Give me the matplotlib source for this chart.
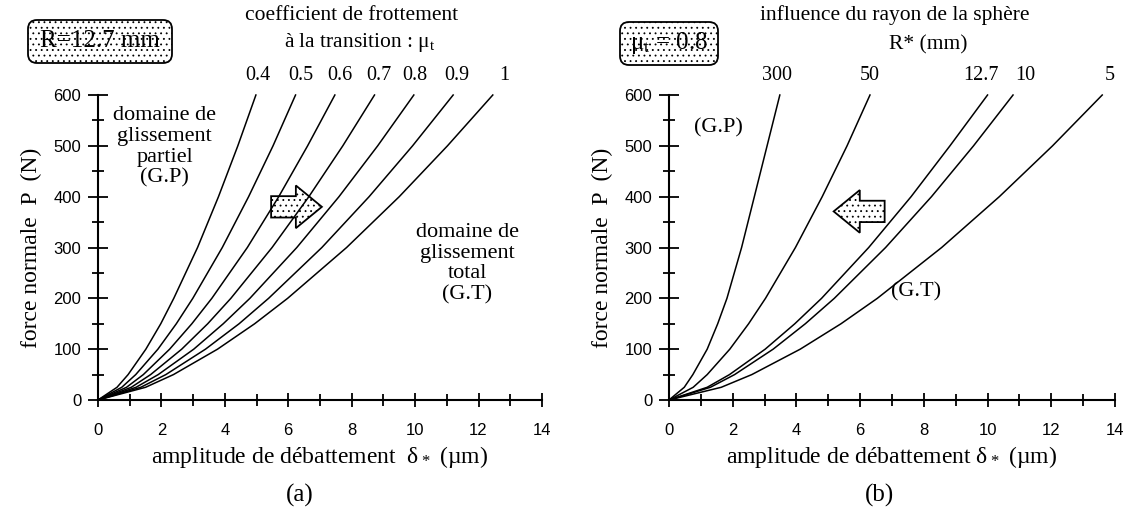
import matplotlib
matplotlib.use("Agg")
import matplotlib.pyplot as plt
from matplotlib.patches import FancyArrow, FancyBboxPatch
from matplotlib.ticker import MultipleLocator

plt.rcParams['font.family'] = ['Liberation Serif', 'DejaVu Serif']
plt.rcParams['hatch.linewidth'] = 0.6
plt.rcParams['hatch.color'] = '0.35'

# normal force levels (N) at which the transition amplitude was read
force = [0, 25, 50, 100, 150, 200, 300, 400, 500, 600]

# (a) transition amplitude (um) for each friction coefficient, R = 12.7 mm
mu_labels = ['0.4', '0.5', '0.6', '0.7', '0.8', '0.9', '1']
delta_mu04 = [0, 0.60, 0.95, 1.51, 1.98, 2.39, 3.14, 3.80, 4.41, 4.98]
delta_mu05 = [0, 0.75, 1.19, 1.89, 2.47, 2.99, 3.92, 4.75, 5.52, 6.23]
delta_mu06 = [0, 0.90, 1.43, 2.26, 2.96, 3.59, 4.71, 5.70, 6.61, 7.47]
delta_mu07 = [0, 1.05, 1.66, 2.64, 3.46, 4.19, 5.49, 6.65, 7.72, 8.72]
delta_mu08 = [0, 1.20, 1.90, 3.02, 3.95, 4.79, 6.27, 7.60, 8.82, 9.96]
delta_mu09 = [0, 1.35, 2.14, 3.39, 4.45, 5.38, 7.06, 8.55, 9.92, 11.20]
delta_mu10 = [0, 1.50, 2.38, 3.77, 4.94, 5.98, 7.84, 9.50, 11.02, 12.45]

# (b) transition amplitude (um) for each sphere radius, mu_t = 0.8
radius_labels = ['300', '50', '12.7', '10', '5']
delta_r300 = [0, 0.48, 0.75, 1.20, 1.53, 1.82, 2.28, 2.68, 3.08, 3.48]
delta_r50 = [0, 0.76, 1.20, 1.91, 2.50, 3.03, 3.97, 4.81, 5.59, 6.31]
delta_r127 = [0, 1.20, 1.90, 3.02, 3.95, 4.79, 6.27, 7.60, 8.82, 10.00]
delta_r10 = [0, 1.30, 2.06, 3.27, 4.28, 5.19, 6.80, 8.24, 9.56, 10.80]
delta_r5 = [0, 1.64, 2.60, 4.12, 5.40, 6.54, 8.56, 10.37, 12.04, 13.60]

curves_a = [delta_mu04, delta_mu05, delta_mu06, delta_mu07, delta_mu08, delta_mu09, delta_mu10]
curves_b = [delta_r300, delta_r50, delta_r127, delta_r10, delta_r5]

# horizontal nudge of each curve label from the curve end (x units)
shift_a = [0.06, 0.16, 0.16, 0.13, 0.03, 0.13, 0.35]
shift_b = [-0.1, 0.0, -0.2, 0.4, 0.25]

SERIF = 15.5
AXLAB = 17


def style_axes(ax):
    ax.set_xlim(0, 14)
    ax.set_ylim(0, 600)
    ax.spines['top'].set_visible(False)
    ax.spines['right'].set_visible(False)
    ax.spines['left'].set_linewidth(1.5)
    ax.spines['bottom'].set_linewidth(1.5)
    ax.xaxis.set_major_locator(MultipleLocator(2))
    ax.xaxis.set_minor_locator(MultipleLocator(1))
    ax.yaxis.set_major_locator(MultipleLocator(100))
    ax.yaxis.set_minor_locator(MultipleLocator(50))
    ax.tick_params(axis='x', which='major', direction='inout', length=9.5, width=1.3,
                   pad=12, labelsize=12, labelfontfamily='Liberation Sans')
    ax.tick_params(axis='x', which='minor', direction='inout', length=8, width=1.3)
    ax.tick_params(axis='y', which='major', direction='inout', length=14, width=1.3,
                   pad=5, labelsize=12, labelfontfamily='Liberation Sans')
    ax.tick_params(axis='y', which='minor', direction='inout', length=8, width=1.3)
    ax.set_ylabel('force normale  P  (N)', fontsize=AXLAB, labelpad=8)


def dotted_box(fig, x0, y0, w, h):
    # stippled rounded frame, sizes in inches from the lower-left corner
    kw = dict(boxstyle='round,pad=0,rounding_size=0.09', transform=fig.dpi_scale_trans)
    fig.patches.append(FancyBboxPatch((x0, y0), w, h, fc='white', hatch='...', lw=0, **kw))
    fig.patches.append(FancyBboxPatch((x0, y0), w, h, fc='none', ec='black', lw=1.3, **kw))


def dotted_arrow(ax, x, y, dx):
    kw = dict(width=42, head_width=84, head_length=0.82, length_includes_head=True)
    ax.add_patch(FancyArrow(x, y, dx, 0, fc='white', hatch='...', lw=0, **kw))
    ax.add_patch(FancyArrow(x, y, dx, 0, fc='none', ec='black', lw=1.3, **kw))


fig = plt.figure(figsize=(11.3, 5.22), dpi=100)
ax1 = fig.add_axes([0.0867, 0.2337, 0.3929, 0.5843])
ax2 = fig.add_axes([0.592, 0.2337, 0.3947, 0.5843])

# ---- (a) influence of the friction coefficient
style_axes(ax1)
for lab, d, s in zip(mu_labels, curves_a, shift_a):
    ax1.plot(d, force, color='black', lw=1.1, clip_on=False)
    ax1.text(d[-1] + s, 620, lab, ha='center', va='bottom', fontsize=14.5)
ax1.set_xlabel('amplitude de débattement  $\\mathregular{δ_*}$ (µm)', fontsize=AXLAB, labelpad=4)

ax1.text(2.1, 578, 'domaine de\nglissement\npartiel\n(G.P)', ha='center', va='top',
         fontsize=16, linespacing=1.12)
ax1.text(11.65, 348, 'domaine de\nglissement\ntotal\n(G.T)', ha='center', va='top',
         fontsize=16, linespacing=1.12)
dotted_arrow(ax1, 5.46, 380, 1.6)

dotted_box(fig, 0.28, 4.59, 1.44, 0.43)
fig.text(100 / 1130, 1 - 41 / 522, 'R=12.7 mm', ha='center', va='center', fontsize=18)
fig.text(352 / 1130, 1 - 15 / 522, 'coefficient de frottement', ha='center', va='center',
         fontsize=SERIF)
fig.text(360 / 1130, 1 - 43 / 522, 'à la transition : $\\mathregular{μ_t}$', ha='center',
         va='center', fontsize=SERIF)
fig.text(300 / 1130, 1 - 495 / 522, '(a)', ha='center', va='center', fontsize=18)

# ---- (b) influence of the sphere radius
style_axes(ax2)
for lab, d, s in zip(radius_labels, curves_b, shift_b):
    ax2.plot(d, force, color='black', lw=1.1, clip_on=False)
    ax2.text(d[-1] + s, 620, lab, ha='center', va='bottom', fontsize=14.5)
ax2.set_xlabel('amplitude de débattement $\\mathregular{δ_*}$ (µm)', fontsize=AXLAB, labelpad=4)

ax2.text(1.55, 535, '(G.P)', ha='center', va='center', fontsize=16)
ax2.text(7.75, 212, '(G.T)', ha='center', va='center', fontsize=16)
dotted_arrow(ax2, 6.77, 371, -1.6)

dotted_box(fig, 6.20, 4.57, 0.98, 0.43)
fig.text(669 / 1130, 1 - 43 / 522, '$\\mathregular{μ_t}$ = 0.8', ha='center', va='center',
         fontsize=18)
fig.text(895 / 1130, 1 - 15 / 522, 'influence du rayon de la sphère', ha='center',
         va='center', fontsize=SERIF)
fig.text(928 / 1130, 1 - 45 / 522, 'R* (mm)', ha='center', va='center', fontsize=SERIF)
fig.text(880 / 1130, 1 - 495 / 522, '(b)', ha='center', va='center', fontsize=18)

fig.savefig('out.png', dpi=100)
